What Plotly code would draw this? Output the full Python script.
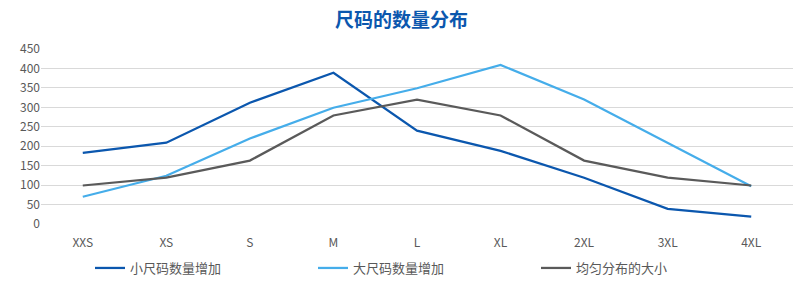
import plotly.graph_objects as go

sizes = ["XXS", "XS", "S", "M", "L", "XL", "2XL", "3XL", "4XL"]
small_more = [183, 209, 312, 389, 240, 188, 119, 39, 19]
large_more = [70, 124, 220, 299, 349, 409, 320, 208, 97]
even = [99, 119, 163, 279, 320, 279, 163, 119, 99]

series_names = ["小尺码数量增加", "大尺码数量增加", "均匀分布的大小"]
colors = ["#0B57AE", "#45ADEA", "#5A5A5A"]
y_ticks = list(range(0, 451, 50))

fig = go.Figure()
for name, vals, c in zip(series_names, [small_more, large_more, even], colors):
    fig.add_trace(go.Scatter(x=sizes, y=vals, name=name, mode="lines",
                             line=dict(color=c, width=2.25)))

font_fam = "Noto Sans CJK SC, Noto Sans, sans-serif"
fig.update_layout(
    width=803, height=285,
    margin=dict(l=41, r=10, t=49, b=61, autoexpand=False),
    paper_bgcolor="white", plot_bgcolor="white",
    title=dict(text="<b>尺码的数量分布</b>", x=0.5, xanchor="center",
               y=1 - 20 / 285, yanchor="middle",
               font=dict(family=font_fam, size=19, color="#0B57AE")),
    font=dict(family=font_fam, size=12, color="#595959"),
    xaxis=dict(type="category", range=[-0.5, 8.5], showgrid=False, showline=False,
               ticks="", ticklabelstandoff=10, tickfont=dict(size=12, color="#595959")),
    yaxis=dict(range=[0, 450], tickvals=y_ticks, showgrid=True, gridcolor="#D9D9D9",
               gridwidth=1, zeroline=False, showline=False, ticks="",
               tickfont=dict(size=12, color="#595959")),
    legend=dict(orientation="h", xref="container", x=90 / 803, xanchor="left",
                yref="container", y=1 - 268 / 285, yanchor="middle",
                entrywidth=178, font=dict(size=13, color="#595959")),
    showlegend=True,
)
fig.write_html("out.html")
